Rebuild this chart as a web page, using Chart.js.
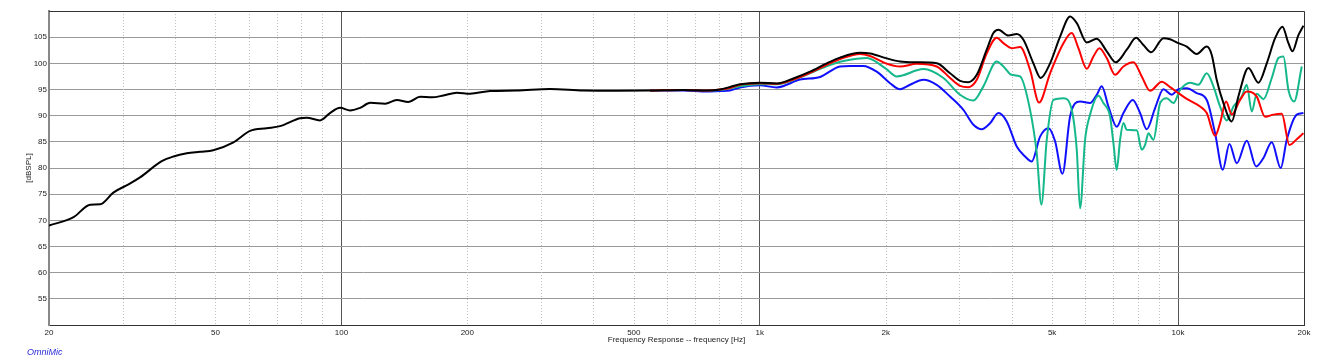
<!DOCTYPE html>
<html><head><meta charset="utf-8">
<script src="https://cdn.jsdelivr.net/npm/chart.js@4.4.1/dist/chart.umd.min.js"></script>
<style>
html,body{margin:0;padding:0;background:#fff;}
#wrap{position:relative;width:1317px;height:362px;}
#brand{position:absolute;left:27px;top:347px;font:italic 9px "Liberation Sans",Arial,sans-serif;color:#2b2bd6;}
</style></head><body>
<div id="wrap"><canvas id="c"></canvas><div id="brand">OmniMic</div></div>
<script>
// ---- data (frequency in Hz, level in dBSPL) ----
const lowFreq  = [20, 22.9, 25.1, 26.5, 28.5, 31.2, 33, 37.2, 39.7, 42.7, 45.9, 49.4, 55.2, 60.5, 66.3, 71.3, 79.6, 82.6, 88.9, 93.9, 99.3, 104.9, 110.8, 117.2, 127.2, 135.6, 144.6, 154.2, 164.5, 175.3, 188.7, 203, 226.7, 262.5, 315, 378.6, 455, 547, 657, 747];
const lowBlack = [69.0, 70.6, 73.0, 73.05, 75.3, 77.0, 78.2, 81.3, 82.2, 82.8, 83.1, 83.4, 84.9, 87.1, 87.6, 88.0, 89.5, 89.6, 89.1, 90.5, 91.5, 91.0, 91.5, 92.45, 92.3, 93.0, 92.6, 93.6, 93.5, 93.85, 94.4, 94.2, 94.7, 94.8, 95.1, 94.8, 94.75, 94.8, 94.9, 94.8];

const blackFreq = [804, 849, 897, 1000, 1098, 1203, 1319, 1446, 1556, 1737, 1835, 2001, 2165, 2373, 2649, 2851, 3012, 3154, 3302, 3488, 3619, 3720, 3930, 4115, 4269, 4510, 4696, 4944, 5224, 5519, 5725, 6049, 6392, 6753, 7096, 7539, 7937, 8263, 8620, 9225, 9570, 10019, 10490, 11083, 11710, 12037, 12373, 12835, 13438, 13941, 14730, 15564, 16293, 17058, 17760, 18357, 18766, 19396, 19939];
const blackDb   = [95.0, 95.5, 96.0, 96.3, 96.15, 97.1, 98.4, 100.0, 101.1, 102.0, 101.9, 101.0, 100.35, 100.2, 100.0, 98.1, 96.65, 96.4, 97.8, 102.6, 105.8, 106.4, 105.3, 105.6, 104.5, 100.0, 97.2, 100.0, 105.1, 108.95, 107.7, 104.0, 104.7, 102.3, 100.2, 102.6, 104.9, 103.5, 102.1, 104.8, 104.6, 103.85, 103.2, 101.8, 103.2, 101.6, 96.8, 92.4, 88.9, 93.7, 99.1, 96.3, 100.0, 104.8, 107.0, 103.85, 102.3, 105.4, 107.2];

const redFreq = [547, 657, 747, 804, 849, 897, 1000, 1098, 1203, 1319, 1446, 1556, 1737, 1835, 2001, 2165, 2373, 2649, 2851, 3012, 3154, 3302, 3488, 3686, 3824, 4003, 4191, 4428, 4653, 4944, 5320, 5570, 5778, 6049, 6275, 6486, 6753, 7070, 7402, 7821, 8188, 8573, 9141, 9570, 10019, 10490, 11288, 11710, 12260, 12602, 13025, 13438, 14069, 14595, 15421, 16144, 16902, 17695, 18458, 19219, 19939];
const redDb   = [94.8, 94.9, 94.8, 95.0, 95.3, 95.9, 96.2, 96.1, 96.9, 98.2, 99.7, 100.8, 101.8, 101.4, 100.0, 99.4, 99.9, 99.4, 97.2, 95.7, 95.45, 96.85, 101.9, 104.9, 103.85, 102.9, 103.1, 98.75, 92.5, 98.1, 103.85, 105.8, 102.9, 98.95, 101.3, 102.9, 101.0, 97.8, 99.4, 100.2, 97.5, 94.75, 96.5, 95.45, 94.3, 93.2, 91.75, 90.5, 86.15, 88.6, 92.7, 90.2, 93.0, 94.6, 93.65, 89.8, 90.2, 90.35, 84.4, 85.5, 86.65];

const greenFreq = [547, 657, 747, 804, 849, 897, 1000, 1098, 1248, 1420, 1556, 1644, 1802, 2001, 2126, 2462, 2748, 3012, 3242, 3425, 3686, 3824, 4003, 4191, 4428, 4594, 4713, 4854, 5035, 5320, 5570, 5725, 5831, 5994, 6161, 6450, 6630, 6878, 7006, 7135, 7268, 7402, 7539, 7966, 8188, 8340, 8494, 8731, 9058, 9396, 9747, 10111, 10684, 11185, 11710, 12148, 12602, 13073, 13563, 14199, 14595, 15003, 15421, 15997, 16748, 17374, 17858, 18357, 18939, 19756];
const greenDb   = [94.8, 94.9, 94.8, 94.9, 95.2, 95.6, 96.0, 96.0, 97.3, 99.2, 100.3, 100.7, 101.0, 99.0, 97.5, 98.9, 97.2, 94.0, 92.9, 95.6, 100.35, 99.4, 97.8, 97.5, 91.1, 82.8, 73.0, 85.4, 93.0, 93.35, 91.1, 83.5, 72.3, 85.4, 90.2, 93.8, 92.4, 89.85, 84.75, 79.65, 85.4, 88.6, 87.3, 87.2, 83.5, 84.4, 86.65, 85.4, 92.4, 93.35, 92.4, 94.9, 96.3, 95.9, 98.1, 95.6, 91.75, 89.1, 91.75, 93.65, 95.9, 90.8, 94.2, 93.15, 97.2, 101.0, 101.3, 94.9, 92.7, 99.4];

const blueFreq = [547, 657, 747, 804, 849, 897, 1000, 1098, 1248, 1394, 1556, 1644, 1769, 1904, 2049, 2165, 2287, 2462, 2649, 2851, 3068, 3242, 3394, 3553, 3720, 3895, 4115, 4308, 4469, 4679, 4899, 5082, 5292, 5519, 5831, 6161, 6392, 6570, 6816, 7135, 7402, 7792, 8113, 8416, 8812, 9225, 9658, 10019, 10490, 11083, 11710, 12260, 12788, 13267, 13813, 14595, 15365, 15997, 16748, 17597, 18189, 19219, 19939];
const blueDb   = [94.8, 94.8, 94.6, 94.7, 94.8, 95.4, 95.8, 95.4, 96.9, 97.4, 99.4, 99.5, 99.5, 98.4, 96.2, 95.05, 95.9, 96.85, 95.9, 93.65, 91.1, 88.25, 87.4, 88.55, 90.5, 88.9, 84.1, 82.2, 81.25, 86.0, 87.6, 85.1, 78.9, 89.85, 92.7, 92.4, 94.0, 95.6, 91.75, 87.9, 90.5, 93.0, 90.5, 87.4, 91.45, 95.05, 94.0, 95.05, 95.25, 94.3, 93.0, 86.65, 79.65, 84.6, 80.9, 85.2, 80.3, 81.9, 84.9, 80.0, 85.4, 90.2, 90.5];

const xTickValues = [20,30,40,50,60,70,80,90,100,200,300,400,500,600,700,800,900,1000,2000,3000,4000,5000,6000,7000,8000,9000,10000,20000];
const xTickLabels = {20:'20',50:'50',100:'100',200:'200',500:'500',1000:'1k',2000:'2k',5000:'5k',10000:'10k',20000:'20k'};
const xMajor = [100,1000,10000];
const yMin = 50, yMax = 110, yStep = 5;
const xTitle = 'Frequency Response -- frequency [Hz]';
const yTitle = '[dBSPL]';

// ---- build ----
const pairs = (f, d) => f.map((x, i) => ({x: x, y: d[i]}));
const FONT = '"Liberation Sans", Arial, Helvetica, sans-serif';

const framePlugin = {
  id: 'frame',
  beforeDatasetsDraw(chart) {
    const {ctx, chartArea: a, scales: {x}} = chart;
    ctx.save();
    ctx.strokeStyle = '#c2c2c2';
    ctx.lineWidth = 1;
    ctx.setLineDash([1, 2]);
    x.ticks.forEach(t => {
      if (xMajor.includes(t.value) || t.value === 20 || t.value === 20000) return;
      const px = Math.round(x.getPixelForValue(t.value)) + 0.5;
      ctx.beginPath(); ctx.moveTo(px, a.top); ctx.lineTo(px, a.bottom); ctx.stroke();
    });
    ctx.restore();
  },
  afterDraw(chart) {
    const {ctx, chartArea: a} = chart;
    ctx.save();
    ctx.strokeStyle = '#333';
    ctx.lineWidth = 1;
    ctx.beginPath();
    ctx.moveTo(a.left, Math.round(a.top) + 0.5);
    ctx.lineTo(Math.round(a.right) + 0.5, Math.round(a.top) + 0.5);
    ctx.lineTo(Math.round(a.right) + 0.5, a.bottom);
    ctx.stroke();
    ctx.restore();
  }
};

const ds = (label, data, color) => ({
  label, data, borderColor: color, backgroundColor: color,
  borderWidth: 2, pointRadius: 0, fill: false,
  cubicInterpolationMode: 'monotone'
});

new Chart(document.getElementById('c'), {
  type: 'line',
  data: {
    datasets: [
      ds('Black', pairs(lowFreq.concat(blackFreq), lowBlack.concat(blackDb)), '#000000'),
      ds('Red', pairs(redFreq, redDb), '#ff0000'),
      ds('Green', pairs(greenFreq, greenDb), '#14b88a'),
      ds('Blue', pairs(blueFreq, blueDb), '#1010ff')
    ]
  },
  options: {
    responsive: true,
    maintainAspectRatio: false,
    animation: false,
    events: [],
    layout: {padding: {left: 0, top: 11, right: 13, bottom: 0}},
    plugins: {legend: {display: false}, tooltip: {enabled: false}},
    scales: {
      x: {
        type: 'logarithmic', min: 20, max: 20000,
        afterBuildTicks: s => { s.ticks = xTickValues.map(v => ({value: v})); },
        afterFit: s => { s.height = 37; },
        ticks: {
          autoSkip: false, maxRotation: 0, minRotation: 0, padding: 3,
          color: '#222', font: {family: FONT, size: 8},
          callback: v => (xTickLabels[v] !== undefined ? xTickLabels[v] : '')
        },
        grid: {
          drawTicks: false, lineWidth: 1,
          color: c => (c.tick && xMajor.includes(c.tick.value)) ? '#555' : 'rgba(0,0,0,0)'
        },
        border: {display: true, color: '#333', width: 1},
        title: {display: true, text: xTitle, color: '#222', font: {family: FONT, size: 8}, padding: {top: 0, bottom: 17}}
      },
      y: {
        type: 'linear', min: yMin, max: yMax,
        afterFit: s => { s.width = 49; },
        ticks: {
          stepSize: yStep, padding: 2, color: '#222', font: {family: FONT, size: 8},
          callback: v => (v === yMin || v === yMax) ? '' : String(v)
        },
        grid: {drawTicks: false, color: '#9a9a9a', lineWidth: 1},
        border: {display: true, color: '#888', width: 2},
        title: {display: true, text: yTitle, color: '#222', font: {family: FONT, size: 8}, padding: {top: 24, bottom: 0}}
      }
    }
  },
  plugins: [framePlugin]
});
</script>
</body></html>
